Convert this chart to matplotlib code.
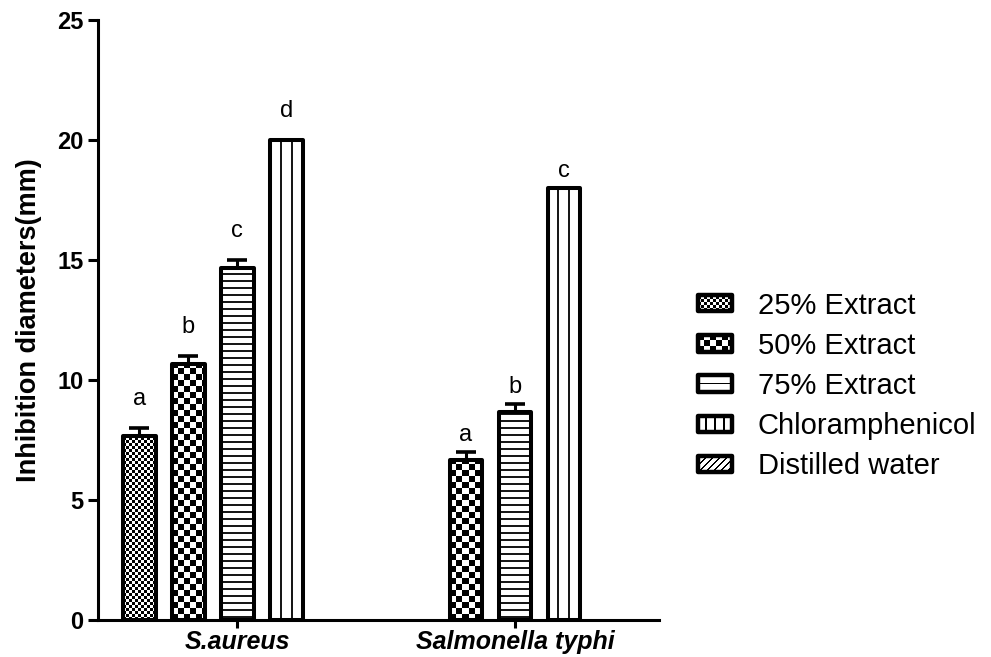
import numpy as np
import matplotlib
matplotlib.use('Agg')
import matplotlib.pyplot as plt
from matplotlib.patches import Rectangle
from matplotlib.legend_handler import HandlerBase

plt.rcParams['font.family'] = ['Liberation Sans', 'DejaVu Sans']

# organisms and treatments
organisms = ['S.aureus', 'Salmonella typhi']
treatments = ['25% Extract', '50% Extract', '75% Extract', 'Chloramphenicol', 'Distilled water']

# mean inhibition diameters (mm), one value per organism
ext25 = [7.67, 0.0]
ext50 = [10.67, 6.67]
ext75 = [14.67, 8.67]
chloram = [20.0, 18.0]
water = [0.0, 0.0]

# standard errors
err25 = [0.33, 0.0]
err50 = [0.33, 0.33]
err75 = [0.33, 0.33]
err_chl = [0.0, 0.0]
err_water = [0.0, 0.0]

# significance letters
let25 = ['a', '']
let50 = ['b', 'a']
let75 = ['c', 'b']
let_chl = ['d', 'c']
let_water = ['', '']

values = [ext25, ext50, ext75, chloram, water]
errors = [err25, err50, err75, err_chl, err_water]
letters = [let25, let50, let75, let_chl, let_water]
kinds = ['fine', 'coarse', 'hlines', 'vlines', 'diag']

DPI = 100


def pattern(kind, w, h, legend=False):
    """1 = white, 0 = black, in pixel cells"""
    yy, xx = np.mgrid[0:h, 0:w]
    if kind == 'fine':
        return ((xx // 3 + yy // 3) % 2).astype(float)
    if kind == 'coarse':
        return ((xx // 6 + yy // 6) % 2).astype(float)
    if kind == 'hlines':
        if legend:
            return (np.abs(yy - h // 2) > 0).astype(float)
        return ((yy % 7) >= 2).astype(float)
    if kind == 'vlines':
        out = np.ones((h, w))
        n = 4 if legend else 3
        for k in range(1, n):
            c = int(round(k * w / n))
            out[:, c - 1:c + 1] = 0
        return out
    if kind == 'diag':
        return (((xx - yy) % 7) >= 2).astype(float)
    return np.ones((h, w))


fig = plt.figure(figsize=(9.91, 6.57), dpi=DPI)
ax = fig.add_axes([98 / 991, 37 / 657, 561 / 991, 600 / 657])

slot = 1.0
bar_w = 0.67
centers = np.array([0.0, 5.67])
offsets = np.arange(len(treatments)) - 2

ax.set_xlim(-2.84, 8.61)
ax.set_ylim(0, 25)

label_pad = [13, 4]
px_y = 25 / 600      # data units per pixel, vertically

for i, (vals, errs, lets, kind) in enumerate(zip(values, errors, letters, kinds)):
    xs = centers + offsets[i] * slot
    bars = ax.bar(xs, vals, width=bar_w, facecolor='white', edgecolor='black',
                  linewidth=2.9, joinstyle='round', zorder=5)
    for j, b in enumerate(bars):
        if b.get_height() <= 0:
            # nothing to show for a zero reading
            b.set_visible(False)
            continue
        bx0, bx1, top = b.get_x(), b.get_x() + b.get_width(), b.get_height()
        if kind == 'hlines':
            ys = np.arange(3 * px_y, top, 7 * px_y)
            ln = ax.hlines(ys, bx0, bx1, colors='black', linewidth=1.3, zorder=4)
            ln.set_clip_path(b)
        elif kind == 'vlines':
            xv = [bx0 + b.get_width() / 3, bx0 + 2 * b.get_width() / 3]
            ln = ax.vlines(xv, 0, top, colors='black', linewidth=1.3, zorder=4)
            ln.set_clip_path(b)
        else:
            # snap the fill image to whole pixels so the pattern stays regular
            p0 = np.round(ax.transData.transform((bx0, 0)))
            p1 = np.round(ax.transData.transform((bx1, top)))
            d0 = ax.transData.inverted().transform(p0)
            d1 = ax.transData.inverted().transform(p1)
            img = ax.imshow(pattern(kind, int(p1[0] - p0[0]), int(p1[1] - p0[1])),
                            cmap='gray', vmin=0, vmax=1,
                            extent=(d0[0], d1[0], d0[1], d1[1]), origin='lower',
                            interpolation='nearest', aspect='auto', zorder=4)
            img.set_clip_path(b)
        b.set_facecolor('none')
    has_err = np.array(errs) > 0
    if has_err.any():
        ax.errorbar(xs[has_err], np.array(vals)[has_err],
                    yerr=[np.zeros(has_err.sum()), np.array(errs)[has_err]],
                    fmt='none', ecolor='black', elinewidth=2.2, capsize=7,
                    capthick=2.6, zorder=2)
    for j, txt in enumerate(lets):
        if txt:
            ax.annotate(txt, (xs[j], vals[j] + errs[j]), xytext=(0, label_pad[j]),
                        textcoords='offset points', ha='center', va='bottom',
                        fontsize=17)

ax.set_xticks(centers)
ax.set_xticklabels(organisms, fontsize=18, fontweight='bold', fontstyle='italic')
ax.set_yticks(np.arange(0, 26, 5))
ax.set_yticklabels([str(v) for v in range(0, 26, 5)], fontsize=17, fontweight='bold')
ax.tick_params(axis='y', length=7.5, width=2.2, pad=3)
ax.tick_params(axis='x', length=6, width=2.2, pad=1.5)
ax.set_ylabel('Inhibition diameters(mm)', fontsize=19.5, fontweight='bold', labelpad=11)

for side in ['top', 'right']:
    ax.spines[side].set_visible(False)
for side in ['left', 'bottom']:
    ax.spines[side].set_linewidth(2.2)


class PatternHandler(HandlerBase):
    def create_artists(self, legend, orig_handle, xdescent, ydescent,
                       width, height, fontsize, trans):
        kind = orig_handle.get_gid()
        px = 72 / DPI
        x0, y0 = -xdescent, -ydescent
        w_px, h_px = int(round(width / px)), int(round(height / px))
        arr = pattern(kind, w_px, h_px, legend=True)
        arts = [Rectangle((x0, y0), width, height, facecolor='white',
                          edgecolor='none', transform=trans)]
        for r in range(h_px):
            row = arr[r]
            c = 0
            while c < w_px:
                if row[c] == 0:
                    s = c
                    while c < w_px and row[c] == 0:
                        c += 1
                    arts.append(Rectangle((x0 + s * px, y0 + r * px), (c - s) * px, px,
                                          facecolor='black', edgecolor='none',
                                          transform=trans))
                else:
                    c += 1
        arts.append(Rectangle((x0, y0), width, height, facecolor='none',
                              edgecolor='black', linewidth=3.2, joinstyle='round',
                              transform=trans))
        return arts


handles = []
for kind in kinds:
    h = Rectangle((0, 0), 1, 1)
    h.set_gid(kind)
    handles.append(h)

fig.legend(handles, treatments, loc='center left', bbox_to_anchor=(698 / 991, 1 - 386 / 657),
           frameon=False, fontsize=21, handler_map={Rectangle: PatternHandler()},
           handlelength=1.15, handleheight=0.5, handletextpad=0.9, labelspacing=0.42,
           borderaxespad=0, borderpad=0)

fig.savefig('out.png', dpi=DPI)
